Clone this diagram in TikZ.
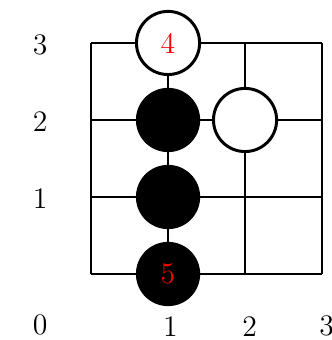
\documentclass[tikz,border=0pt]{standalone}
\usepackage{tikz}
\usepackage{xcolor}

\tikzset{
  whitestone/.style={circle,draw,line width=1.1pt,fill=white,minimum size=0.82cm,inner sep=0pt,text=red},
  blackstone/.style={circle,draw,fill=black,minimum size=0.82cm,inner sep=0pt,text=red},
  axislabel/.style={font=\fontsize{11}{13}\selectfont}
}

\begin{document}
\begin{tikzpicture}[x=1cm,y=1cm]
  \useasboundingbox (-1.182,-0.857) rectangle (3.117,3.558);
  \draw[line width=0.75pt] (0,0) grid (3,3);
  \node[axislabel] (y3) at (-0.66,2.98) {3};
  \node[axislabel] (y2) at (-0.66,1.98) {2};
  \node[axislabel] (y1) at (-0.66,0.98) {1};
  \node[axislabel] (o) at (-0.66,-0.66) {0};
  \node[axislabel] (x1) at (1.03,-0.68) {1};
  \node[axislabel] (x2) at (2.06,-0.68) {2};
  \node[axislabel] (x3) at (3.06,-0.68) {3};
  \node[whitestone,axislabel] (w4) at (1,3) {4};
  \node[blackstone] (b12) at (1,2) {};
  \node[whitestone] (w22) at (2,2) {};
  \node[blackstone] (b11) at (1,1) {};
  \node[blackstone,axislabel] (b5) at (1,0) {5};
\end{tikzpicture}
\end{document}
